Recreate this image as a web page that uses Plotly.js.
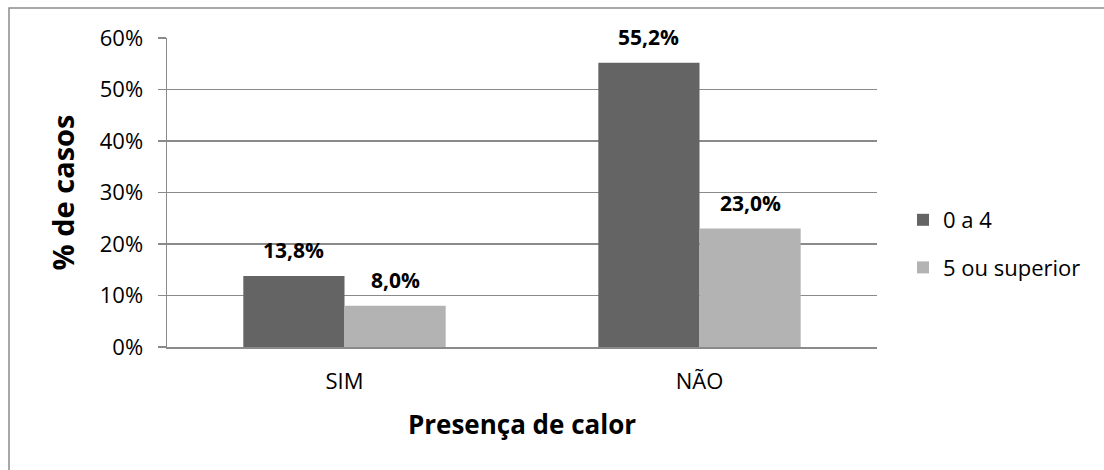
<!DOCTYPE html>
<html>
<head>
<meta charset="utf-8">
<script src="https://cdn.plot.ly/plotly-3.0.1.min.js"></script>
<style>
  html, body { margin: 0; padding: 0; background: #fff; }
  #chart { width: 1104px; height: 470px; }
</style>
</head>
<body>
<div id="chart"></div>
<script>
// ---- data ----
const categories = ['SIM', 'NÃO'];
const seriesNames = ['0 a 4', '5 ou superior'];
const values0a4 = [13.8, 55.2];
const values5ouSup = [8.0, 23.0];
const yTickVals = [0, 10, 20, 30, 40, 50, 60];
const yTickText = ['0%', '10%', '20%', '30%', '40%', '50%', '60%'];

// ---- style ----
const W = 1104, H = 470;
const M = { l: 167, r: 227, t: 38, b: 123 };
const FONT = 'Open Sans, Noto Sans, sans-serif';
const colors = ['#646464', '#b3b3b3'];
const gridColor = '#8a8a8a';
const BARGAP = 0.43;

function fmt(v) { return v.toFixed(1).replace('.', ',') + '%'; }

const allSeries = [values0a4, values5ouSup];
const traces = allSeries.map((vals, s) => ({
  type: 'bar',
  name: seriesNames[s],
  x: categories,
  y: vals,
  marker: { color: colors[s], line: { width: 0 } },
  legendgroup: 'g' + s,
  hoverinfo: 'skip'
}));

const half = (1 - BARGAP) / 4;
const annotations = [];
allSeries.forEach((vals, s) => {
  vals.forEach((v, i) => {
    annotations.push({
      x: i + (s === 0 ? -half : half),
      y: v,
      xref: 'x', yref: 'y',
      text: '<b>' + fmt(v) + '</b>',
      showarrow: false,
      yanchor: 'middle',
      yshift: 26,
      font: { family: FONT, size: 21, color: '#000' }
    });
  });
});

// outer frame (only top/left visible in the image)
const pw = W - M.l - M.r, ph = H - M.t - M.b;
const shapes = [{
  type: 'rect', xref: 'paper', yref: 'paper', layer: 'above',
  x0: (9 - M.l) / pw, x1: (W + 20 - M.l) / pw,
  y0: (H - M.b - (H + 20)) / ph, y1: (H - M.b - 8) / ph,
  line: { color: '#8c8c8c', width: 1.5 }, fillcolor: 'rgba(0,0,0,0)'
}];

const layout = {
  width: W, height: H,
  margin: M,
  paper_bgcolor: '#fff', plot_bgcolor: '#fff',
  font: { family: FONT, size: 22, color: '#000' },
  barmode: 'group',
  bargap: BARGAP,
  bargroupgap: 0,
  showlegend: true,
  legend: {
    x: (903 - M.l) / pw, xanchor: 'left',
    y: (H - M.b - 199) / ph, yanchor: 'top',
    font: { family: FONT, size: 22, color: '#000' },
    traceorder: 'grouped', tracegroupgap: 16,
    itemwidth: 30, bgcolor: 'rgba(0,0,0,0)'
  },
  xaxis: {
    type: 'category',
    showline: true, linecolor: gridColor, linewidth: 1.5,
    ticks: '', showgrid: false,
    tickfont: { family: FONT, size: 22, color: '#000' },
    ticklabelstandoff: 14,
    title: { text: '<b>Presença de calor</b>', font: { family: FONT, size: 26, color: '#000' }, standoff: 22 }
  },
  yaxis: {
    range: [0, 60],
    tickvals: yTickVals, ticktext: yTickText,
    showline: true, linecolor: gridColor, linewidth: 1.5,
    showgrid: true, gridcolor: gridColor, gridwidth: 1.5,
    ticks: 'outside', ticklen: 8, tickcolor: gridColor, tickwidth: 1.5,
    tickfont: { family: FONT, size: 22, color: '#000' },
    ticklabelstandoff: 10,
    zeroline: false,
    title: { text: '<b>% de casos</b>', font: { family: FONT, size: 29, color: '#000' }, standoff: 16 }
  },
  annotations: annotations,
  shapes: shapes
};

Plotly.newPlot('chart', traces, layout, { staticPlot: true, displayModeBar: false });
</script>
</body>
</html>
